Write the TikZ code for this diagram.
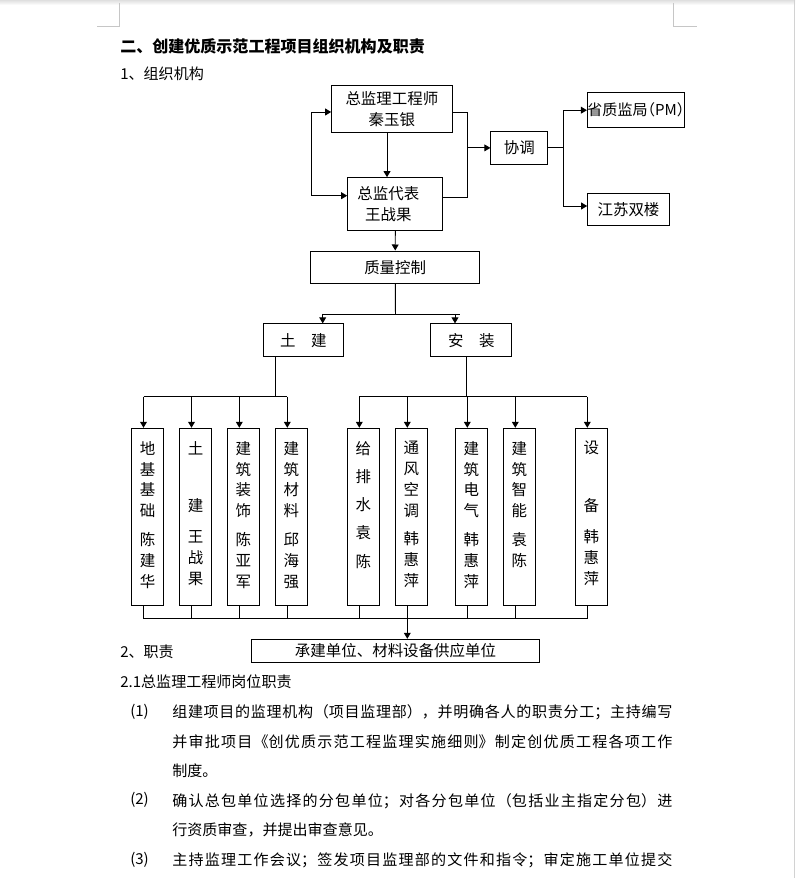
\documentclass[tikz,border=0pt]{standalone}
\usepackage{fontspec}
\setmainfont{Noto Sans CJK SC}
\usepackage{tikz}
\usetikzlibrary{positioning,arrows.meta,calc}
\XeTeXlinebreaklocale "zh"
\XeTeXlinebreakskip=0pt plus 3pt
\newcommand{\vtxt}[1]{\parbox[c][3.78cm][t]{1.2em}{\centering #1}}

\begin{document}
\begin{tikzpicture}[
    x=0.025cm, y=-0.025cm,
    base/.style = {draw, line width=0.7pt, inner sep=0pt, align=center, font=\fontsize{11pt}{14.9pt}\selectfont},
    tall/.style = {base, minimum width=0.8cm, minimum height=4.42cm},
    txt/.style = {anchor=west, inner sep=0pt, font=\fontsize{10.7pt}{14pt}\selectfont},
    para/.style = {anchor=north west, inner sep=0pt, text width=12.5cm, align=justify, font=\fontsize{10.7pt}{21pt}\selectfont},
    ln/.style = {line width=0.7pt},
    arr/.style = {ln, -{Triangle[length=1.5mm, width=1.7mm]}},
    crop/.style = {draw=gray!45, line width=0.6pt},
]

    % page
    \fill[white] (0,0) rectangle (795,878);
    \useasboundingbox (0,0) rectangle (795,878);
    \shade[top color=gray!25, bottom color=white] (0,0) rectangle (795,5);
    \draw[draw=gray!35, line width=0.5pt] (794.5,0) -- (794.5,878);
    \draw[crop] (119.3,3) -- (119.3,26) -- (96.7,26);
    \draw[crop] (673.3,3) -- (673.3,26) -- (696.7,26);

    % headings
    \node[txt, font=\bfseries\fontsize{11.4pt}{14pt}\selectfont] (title) at (120,46.7) {二、创建优质示范工程项目组织机构及职责};
    \node[txt] (sec1) at (120,73.3) {1、组织机构};

    % top boxes
    \node[base, minimum width=3.01cm, minimum height=1.19cm] (zjl) at (391.9,108.9) {总监理工程师\\秦玉银};
    \node[base, minimum width=2.38cm, minimum height=1.31cm] (zjdb) at (395.3,203.9) {总监代表\hspace*{0.35cm}\\王战果\hspace*{0.35cm}};
    \node[base, minimum width=1.42cm, minimum height=0.81cm] (xt) at (519.3,147.9) {协调};
    \node[base, minimum width=2.41cm, minimum height=0.875cm, font=\fontsize{10.7pt}{14pt}\selectfont\addfontfeatures{RawFeature=+halt}] (szj) at (635.9,110.2) {省质监局（PM）};
    \node[base, minimum width=2.04cm, minimum height=0.79cm] (jssl) at (628.5,209.2) {江苏双楼};
    \node[base, minimum width=4.21cm, minimum height=0.81cm] (zlkz) at (395.2,267.2) {质量控制};
    \node[base, minimum width=2cm, minimum height=0.82cm] (tj) at (303.3,340.3) {土　建};
    \node[base, minimum width=2.02cm, minimum height=0.82cm] (az) at (471.3,340.3) {安　装};

    % trades
    \node[tall] (dj) at (147.5,516.7) {\vtxt{地\\基\\基\\础\\[5.2pt]陈\\建\\华}};
    \node[tall] (tjz) at (195.5,516.7) {\vtxt{土\\[26.1pt]建\\[6.9pt]王\\战\\果}};
    \node[tall] (zs) at (243.3,516.7) {\vtxt{建\\筑\\装\\饰\\[5.2pt]陈\\亚\\军}};
    \node[tall] (cl) at (291.3,516.7) {\vtxt{建\\筑\\材\\料\\[5.2pt]邱\\海\\强}};
    \node[tall] (gps) at (363.3,516.7) {\vtxt{给\\[5.2pt]排\\[5.2pt]水\\[5.2pt]袁\\[5.2pt]陈}};
    \node[tall] (tf) at (411.3,516.7) {\vtxt{通\\风\\空\\调\\[5.2pt]韩\\惠\\萍}};
    \node[tall] (dq) at (471.3,516.7) {\vtxt{建\\筑\\电\\气\\[5.2pt]韩\\惠\\萍}};
    \node[tall] (zn) at (519.3,516.7) {\vtxt{建\\筑\\智\\能\\[5.2pt]袁\\陈}};
    \node[tall] (sb) at (591.3,516.7) {\vtxt{设\\[26.1pt]备\\[6.9pt]韩\\惠\\萍}};

    \node[base, minimum width=7.19cm, minimum height=0.585cm] (cj) at (395.5,651) {承建单位、材料设备供应单位};

    % flows
    \coordinate (lp) at (311.7,150);
    \draw[arr] (lp) |- ($(zjl.west)+(0,3.1)$);
    \draw[arr] (lp) |- ($(zjdb.west)+(0,-8.2)$);
    \draw[arr] ($(zjl.south)+(-4.9,0)$) -- ($(zjdb.north)+(-8.3,0)$);

    \coordinate (rj) at (467.7,147.9);
    \draw[ln] ($(zjl.east)+(0,3.1)$) -| (rj);
    \draw[ln] ($(zjdb.east)+(0,-6.2)$) -| (rj);
    \draw[arr] (rj) -- (xt);

    \coordinate (xj) at (563.3,147.9);
    \draw[ln] (xt) -- (xj);
    \draw[arr] (xj) |- (szj);
    \draw[arr] (xj) |- ($(jssl.west)+(0,-3.2)$);

    \draw[arr] (zjdb) -- (zlkz);

    \coordinate (qj) at (395.5,314);
    \coordinate (qa) at (322.7,314);
    \coordinate (qb) at (455,314);
    \coordinate (qe) at (460,314);
    \draw[ln] (zlkz) -- (qj);
    \draw[ln] (qa) -- (qe);
    \draw[arr] (qa) -- (qa |- tj.north);
    \draw[arr] (qb) -- (qb |- az.north);

    \coordinate (ta) at (275,396.7);
    \draw[ln] (ta |- tj.south) -- (ta);
    \draw[ln] ([xshift=-1mm]dj.north |- ta) -- ([xshift=-1mm]cl.north |- ta);
    \foreach \b in {dj,tjz,zs,cl}
        \draw[arr] ([xshift=-1mm]\b.north |- ta) -- ([xshift=-1mm]\b.north);

    \coordinate (aa) at (466.7,396.7);
    \draw[ln] (aa |- az.south) -- (aa);
    \draw[ln] ([xshift=-1mm]gps.north |- aa) -- ([xshift=-1mm]sb.north |- aa);
    \foreach \b in {gps,tf,dq,zn,sb}
        \draw[arr] ([xshift=-1mm]\b.north |- aa) -- ([xshift=-1mm]\b.north);

    \coordinate (ba) at (407.3,618.5);
    \foreach \b in {dj,tjz,zs,cl,gps,tf,dq,zn,sb}
        \draw[ln] ([xshift=-1mm]\b.south) -- ([xshift=-1mm]\b.south |- ba);
    \draw[ln] ([xshift=-1mm]dj.south |- ba) -- ([xshift=-1mm]sb.south |- ba);
    \draw[arr] (ba) -- (ba |- cj.north);

    % duties
    \node[txt] (sec2) at (120,651.7) {2、职责};
    \node[txt] (sec21) at (120,681.7) {2.1总监理工程师岗位职责};
    \node[txt] (n1) at (130,711.5) {(1)};
    \node[txt] (n2) at (130,800) {(2)};
    \node[txt] (n3) at (130,859.5) {(3)};
    \node[para] (p1) at (172,704.5) {\noindent 组建项目的监理机构（项目监理部），并明确各人的职责分工；主持编写\linebreak 并审批项目《创优质示范工程监理实施细则》制定创优质工程各项工作\linebreak 制度。};
    \node[para] (p2) at (172,793) {\noindent 确认总包单位选择的分包单位；对各分包单位（包括业主指定分包）进\linebreak 行资质审查，并提出审查意见。};
    \node[para] (p3) at (172,852.5) {\noindent 主持监理工作会议；签发项目监理部的文件和指令；审定施工单位提交\linebreak};

\end{tikzpicture}
\end{document}
